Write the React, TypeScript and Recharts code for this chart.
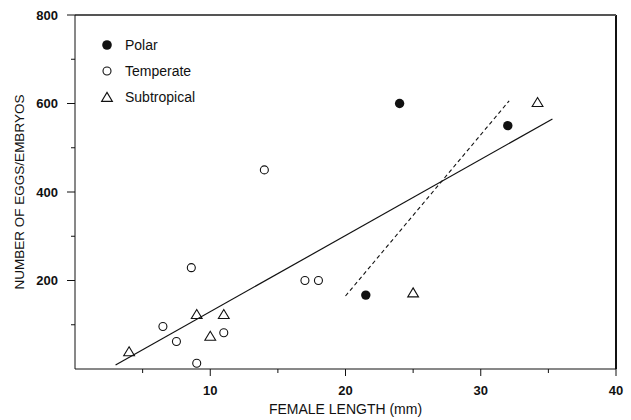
import React from 'react';
import {
    ComposedChart,
    Scatter,
    Line,
    XAxis,
    YAxis,
    Label,
    Legend,
    ReferenceLine
} from 'recharts';

// female length (mm) and eggs/embryos per female
const polarLength = [24.0, 32.0, 21.5];
const polarCount = [600, 550, 167];

const temperateLength = [14.0, 8.6, 17.0, 18.0, 6.5, 7.5, 11.0, 9.0];
const temperateCount = [450, 229, 200, 200, 96, 62, 82, 13];

const subtropicalLength = [34.2, 25.0, 4.0, 9.0, 11.0, 10.0];
const subtropicalCount = [603, 173, 40, 124, 124, 75];

// regression lines (end points)
const fitAllLength = [3.0, 35.3];
const fitAllCount = [9, 565];
const fitPolarLength = [20.0, 32.1];
const fitPolarCount = [165, 606];

const xTicks = [5, 10, 15, 20, 25, 30, 35, 40];
const yTicks = [100, 200, 300, 400, 500, 600, 700, 800];
const xMax = 40;
const yMax = 800;

const INK = '#111';
const FONT = '"Liberation Sans", Arial, sans-serif';

const zip = (xs: number[], ys: number[]) => xs.map((x, i) => ({ x, y: ys[i] }));

const polar = zip(polarLength, polarCount);
const temperate = zip(temperateLength, temperateCount);
const subtropical = zip(subtropicalLength, subtropicalCount);
const fitAll = zip(fitAllLength, fitAllCount);
const fitPolar = zip(fitPolarLength, fitPolarCount);

// top edge of the plot box
const frameTop = [{ x: 0, y: yMax }, { x: xMax, y: yMax }];

const FilledDot = ({ cx, cy }: any) => <circle cx={cx} cy={cy} r={4.7} fill={INK} />;
const OpenDot = ({ cx, cy }: any) => <circle cx={cx} cy={cy} r={4} fill="none" stroke={INK} strokeWidth={1.1} />;
const Triangle = ({ cx, cy }: any) => (
    <path d={`M${cx},${cy - 4.6}L${cx + 5.4},${cy + 4.4}L${cx - 5.4},${cy + 4.4}Z`} fill="none" stroke={INK} strokeWidth={1.1} />
);

const XTick = ({ x, y, payload }: any) => {
    const major = payload.value % 10 === 0;
    return (
        <g>
            <line x1={x} y1={y} x2={x} y2={y + (major ? 7 : 4)} stroke={INK} />
            {major && (
                <text x={x} y={y + 21} textAnchor="middle" dominantBaseline="central" fill={INK} fontSize={13} fontWeight="bold" fontFamily={FONT}>
                    {payload.value}
                </text>
            )}
        </g>
    );
};

const YTick = ({ x, y, payload }: any) => {
    const major = payload.value % 200 === 0;
    return (
        <g>
            <line x1={x} y1={y} x2={x - (major ? 8 : 4)} y2={y} stroke={INK} />
            {major && (
                <text x={x - 17} y={y} textAnchor="end" dominantBaseline="central" fill={INK} fontSize={13} fontWeight="bold" fontFamily={FONT}>
                    {payload.value}
                </text>
            )}
        </g>
    );
};

const legendRows = [
    { name: 'Polar', icon: <circle cx={7} cy={7} r={4.8} fill={INK} /> },
    { name: 'Temperate', icon: <circle cx={7} cy={7} r={4} fill="none" stroke={INK} strokeWidth={1.1} /> },
    { name: 'Subtropical', icon: <path d="M7,2.4L12.4,11.4L1.6,11.4Z" fill="none" stroke={INK} strokeWidth={1.1} /> }
];

const renderLegend = () => (
    <div style={{ fontFamily: FONT, fontSize: 14, color: INK }}>
        {legendRows.map((row) => (
            <div key={row.name} style={{ display: 'flex', alignItems: 'center', height: 26 }}>
                <svg width={14} height={14} style={{ marginRight: 11 }}>{row.icon}</svg>
                <span>{row.name}</span>
            </div>
        ))}
    </div>
);

export default function App() {
    return (
        <div style={{ position: 'absolute', left: 0, top: 0, background: '#fff' }}>
            <ComposedChart width={631} height={420} margin={{ top: 15, right: 15, left: 0, bottom: 0 }}>
                <XAxis
                    type="number"
                    dataKey="x"
                    domain={[0, xMax]}
                    ticks={xTicks}
                    interval={0}
                    height={51}
                    tickSize={0}
                    tickMargin={0}
                    tickLine={false}
                    tick={<XTick />}
                    axisLine={{ stroke: INK }}
                >
                    <Label
                        content={({ viewBox }: any) => (
                            <text x={viewBox.x + viewBox.width / 2} y={viewBox.y + 40} textAnchor="middle" dominantBaseline="central" fill={INK} fontSize={14} fontFamily={FONT}>
                                FEMALE LENGTH (mm)
                            </text>
                        )}
                    />
                </XAxis>
                <YAxis
                    type="number"
                    dataKey="y"
                    domain={[0, yMax]}
                    ticks={yTicks}
                    interval={0}
                    width={75}
                    tickSize={0}
                    tickMargin={0}
                    tickLine={false}
                    tick={<YTick />}
                    axisLine={{ stroke: INK }}
                >
                    <Label
                        content={({ viewBox }: any) => {
                            const cx = viewBox.x + 19;
                            const cy = viewBox.y + viewBox.height / 2;
                            return (
                                <text x={cx} y={cy} transform={`rotate(-90 ${cx} ${cy})`} textAnchor="middle" dominantBaseline="central" fill={INK} fontSize={13.5} fontFamily={FONT}>
                                    NUMBER OF EGGS/EMBRYOS
                                </text>
                            );
                        }}
                    />
                </YAxis>
                {/* right edge of the plot box */}
                <ReferenceLine x={xMax} stroke={INK} strokeWidth={2} ifOverflow="visible" />
                <Legend
                    layout="horizontal"
                    verticalAlign="middle"
                    align="center"
                    content={renderLegend}
                    wrapperStyle={{ left: 100, top: 32, width: 'auto' }}
                />
                <Line data={frameTop} dataKey="y" stroke="#555" strokeWidth={2} dot={false} activeDot={false} legendType="none" isAnimationActive={false} />
                <Line data={fitAll} dataKey="y" stroke={INK} strokeWidth={1.2} dot={false} activeDot={false} legendType="none" isAnimationActive={false} />
                <Line data={fitPolar} dataKey="y" stroke={INK} strokeWidth={1.1} strokeDasharray="4 3" dot={false} activeDot={false} legendType="none" isAnimationActive={false} />
                <Scatter name="Polar" data={polar} dataKey="y" shape={<FilledDot />} isAnimationActive={false} />
                <Scatter name="Temperate" data={temperate} dataKey="y" shape={<OpenDot />} isAnimationActive={false} />
                <Scatter name="Subtropical" data={subtropical} dataKey="y" shape={<Triangle />} isAnimationActive={false} />
            </ComposedChart>
        </div>
    );
}
